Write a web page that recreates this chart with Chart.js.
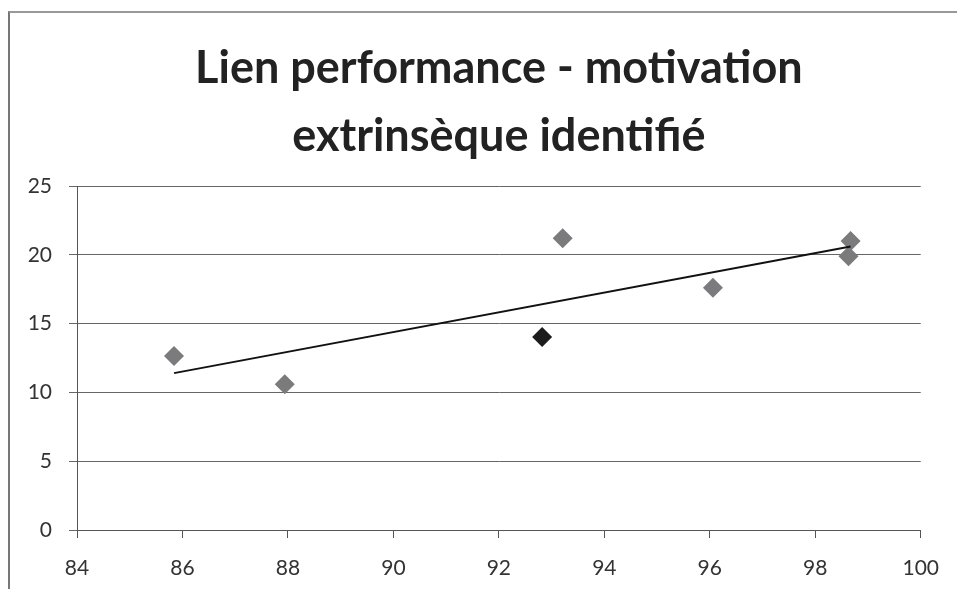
<!DOCTYPE html>
<html lang="fr">
<head>
<meta charset="UTF-8">
<title>Lien performance - motivation extrinsèque identifié</title>
<script src="https://cdn.jsdelivr.net/npm/chart.js"></script>
<style>
    body {
        margin: 0;
        padding: 0;
        background: #fff;
        overflow: hidden;
    }
    .frame {
        position: absolute;
        left: 8px;
        top: 11px;
        width: 980px;
        height: 620px;
        border-left: 2px solid #777;
        border-top: 2px solid #999;
    }
    .wrap {
        position: absolute;
        left: 0;
        top: 0;
        width: 957px;
        height: 589px;
    }
</style>
</head>
<body>
<div class="frame"></div>
<div class="wrap"><canvas id="chart" width="957" height="589"></canvas></div>
<script>
    // performance (x) vs motivation extrinsèque identifié (y)
    const perfValues = [85.84, 87.94, 93.21, 92.82, 96.06, 98.67, 98.63];
    const motivValues = [12.65, 10.6, 21.2, 14.03, 17.6, 21.0, 19.9];
    // trend line end points
    const trendX = [85.84, 98.67];
    const trendY = [11.4, 20.6];
    const xTicks = [84, 86, 88, 90, 92, 94, 96, 98, 100];
    const yTicks = [0, 5, 10, 15, 20, 25];
    const highlighted = 3;

    const points = perfValues.map((x, i) => ({ x: x, y: motivValues[i] }));
    const trend = trendX.map((x, i) => ({ x: x, y: trendY[i] }));
    const pointColors = points.map((p, i) => i === highlighted ? '#1c1c1c' : '#7b7b7d');

    const tickFont = { family: 'Lato', size: 21, lineHeight: 1.2 };

    const ctx = document.getElementById('chart').getContext('2d');
    new Chart(ctx, {
        type: 'scatter',
        data: {
            datasets: [{
                label: 'motivation',
                data: points,
                pointStyle: 'rectRot',
                pointRadius: 10,
                pointHoverRadius: 10,
                backgroundColor: pointColors,
                borderColor: pointColors,
                borderWidth: 0,
                order: 1
            }, {
                label: 'tendance',
                type: 'line',
                data: trend,
                borderColor: '#111',
                borderWidth: 2,
                pointRadius: 0,
                fill: false,
                order: 0
            }]
        },
        options: {
            responsive: false,
            animation: false,
            layout: {
                padding: { left: 20, right: 36, top: 0, bottom: 9 }
            },
            plugins: {
                legend: { display: false },
                tooltip: { enabled: false },
                title: {
                    display: true,
                    fullSize: false,
                    text: ['Lien performance - motivation', 'extrinsèque identifié'],
                    color: '#222',
                    font: { family: 'Lato', size: 45, weight: 'bold', lineHeight: 1.5 },
                    padding: { top: 35, bottom: 16 }
                }
            },
            scales: {
                x: {
                    type: 'linear',
                    min: 84,
                    max: 100,
                    afterBuildTicks: axis => { axis.ticks = xTicks.map(v => ({ value: v })); },
                    afterFit: axis => { axis.height = 50; },
                    grid: {
                        drawOnChartArea: false,
                        drawTicks: true,
                        tickLength: 8,
                        color: '#555'
                    },
                    border: { color: '#555', width: 1 },
                    ticks: { color: '#333', font: tickFont, padding: 18, maxRotation: 0 }
                },
                y: {
                    min: 0,
                    max: 25,
                    afterBuildTicks: axis => { axis.ticks = yTicks.map(v => ({ value: v })); },
                    afterFit: axis => { axis.width = 57; },
                    grid: {
                        color: '#666',
                        lineWidth: 1,
                        drawTicks: true,
                        tickLength: 8
                    },
                    border: { color: '#555', width: 1 },
                    ticks: { color: '#333', font: tickFont, padding: 17 }
                }
            }
        }
    });
</script>
</body>
</html>
